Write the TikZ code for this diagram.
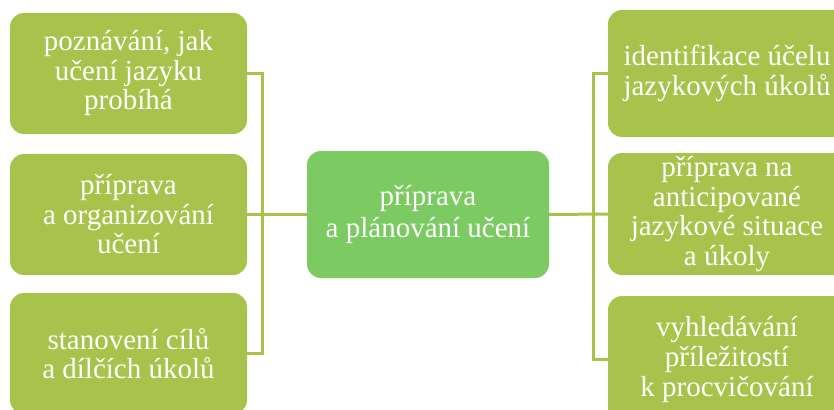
\documentclass[tikz,border=0pt]{standalone}
\usepackage{fontspec}
\setmainfont{Liberation Serif}
\definecolor{olive}{HTML}{A8C34C}
\definecolor{cgreen}{HTML}{7CCA62}
\tikzset{
  box/.style={rounded corners=14pt, fill=olive, text=white, align=center, inner sep=0pt,
    font=\fontsize{29}{29.5}\selectfont},
  centerbox/.style={box, fill=cgreen, font=\fontsize{29}{31.5}\selectfont},
  conn/.style={draw=olive, line width=3pt}
}
\begin{document}
\begin{tikzpicture}[x=1pt,y=-1pt]
\useasboundingbox (0,0) rectangle (834,409);
\clip (0,0) rectangle (834,409);
\node[box, minimum width=237pt, minimum height=121pt] (L1) at (128.5,73.5) {poznávání, jak\\učení jazyku\\probíhá};
\node[box, minimum width=237pt, minimum height=121pt] (L2) at (128.5,214.5) {příprava\\a organizování\\učení};
\node[box, minimum width=237pt, minimum height=121pt] (L3) at (128.5,353.5) {stanovení cílů\\a dílčích úkolů};
\node[centerbox, minimum width=242pt, minimum height=127pt] (C) at (428,214.5) {příprava\\a plánování učení};
\node[box, minimum width=238pt, minimum height=127pt] (R1) at (727,73.5) {identifikace účelu\\jazykových úkolů};
\node[box, minimum width=238pt, minimum height=122pt] (R2) at (727,214) {příprava na\\anticipované\\jazykové situace\\a úkoly};
\node[box, minimum width=238pt, minimum height=127pt] (R3) at (727,359.5) {vyhledávání\\příležitostí\\k procvičování};
\coordinate (lbus) at (262,0);
\coordinate (rbus) at (593,0);
\draw[conn] (L1.east) -- (L1.east -| lbus) -- (L3.east -| lbus) -- (L3.east);
\draw[conn] (L2.east) -- (C.west);
\draw[conn] (R1.west) -- (R1.west -| rbus) -- (R3.west -| rbus) -- (R3.west);
\draw[conn] (C.east) -- (R2.west);
\end{tikzpicture}
\end{document}
